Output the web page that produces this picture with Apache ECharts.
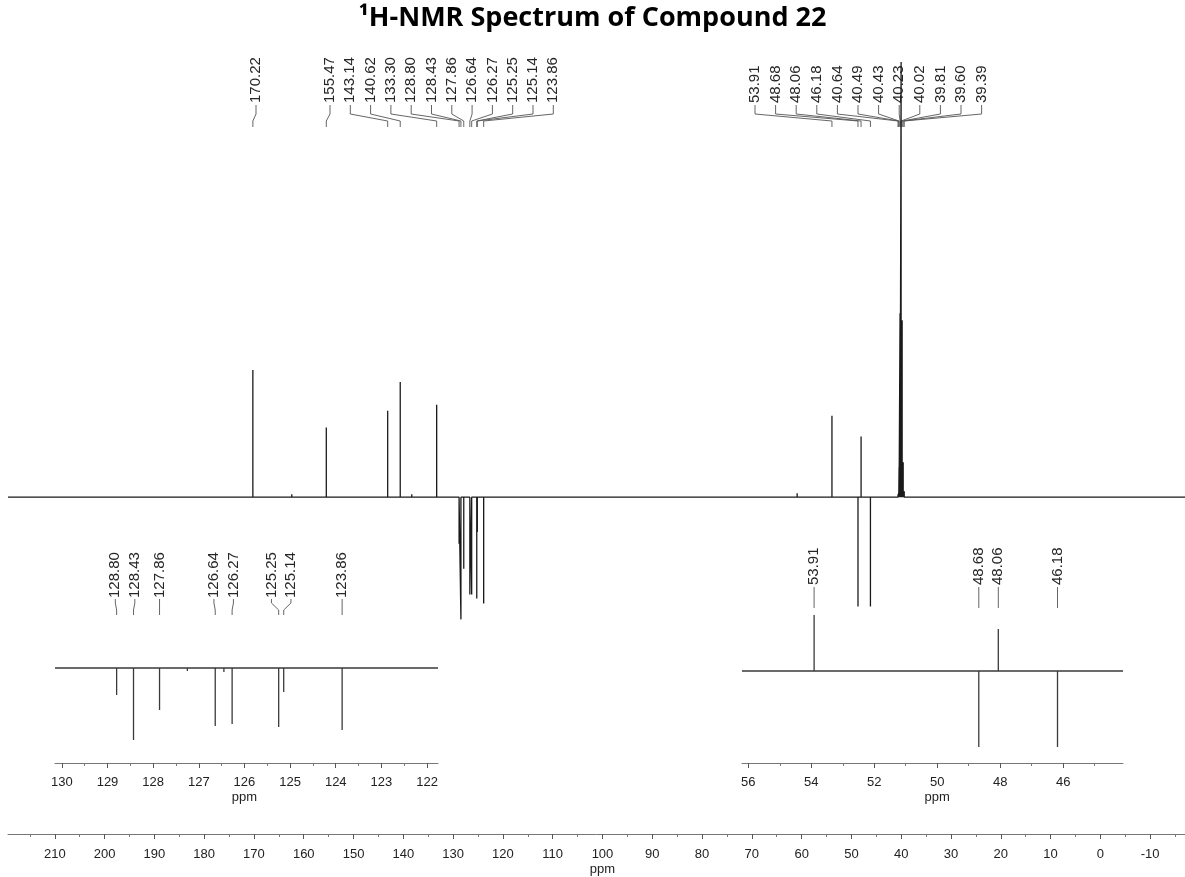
<!DOCTYPE html>
<html>
<head>
<meta charset="utf-8">
<script src="https://cdn.jsdelivr.net/npm/echarts@6/dist/echarts.min.js"></script>
<style>
html,body{margin:0;padding:0;background:#fff;}
#chart{width:1185px;height:877px;}
</style>
</head>
<body>
<div id="chart"></div>
<script>
// ---------------- DATA ----------------
const chartTitle = '¹H-NMR Spectrum of Compound 22';

// Main spectrum: peak positions (ppm) and signed intensities (arbitrary units)
const mainPpm    = [170.22, 162.4, 155.47, 143.14, 140.62, 138.3, 133.30, 128.80, 128.43, 127.86, 126.64, 126.27, 125.25, 125.14, 123.86, 60.9, 53.91, 48.68, 48.06, 46.18, 40.64, 40.49, 40.43, 40.23, 40.02, 39.81, 39.60, 39.39];
const mainHeight = [128,    3,     70,     87,     116,    3,     93,     -47,    -123,   -72,    -98,    -98,    -102,   -35,    -107,   4,    82,    -110,  61,    -110,  3,     4,     30,    185,   438,   178,   35,    6];
const mainRange = [219.4, -17.0];
const mainTickLabels = [210, 200, 190, 180, 170, 160, 150, 140, 130, 120, 110, 100, 90, 80, 70, 60, 50, 40, 30, 20, 10, 0, -10];
const mainMinorTicks = [215, 205, 195, 185, 175, 165, 155, 145, 135, 125, 115, 105, 95, 85, 75, 65, 55, 45, 35, 25, 15, 5, -5, -15];

// Peak-label groups of the main spectrum
const mainLabelsA = [170.22];
const mainLabelsB = [155.47, 143.14, 140.62, 133.30, 128.80, 128.43, 127.86, 126.64, 126.27, 125.25, 125.14, 123.86];
const mainLabelsC = [53.91, 48.68, 48.06, 46.18, 40.64, 40.49, 40.43, 40.23, 40.02, 39.81, 39.60, 39.39];

// Left inset (aromatic region)
const leftPpm    = [128.80, 128.43, 127.86, 127.25, 126.64, 126.45, 126.27, 125.25, 125.14, 123.86];
const leftHeight = [-27,    -72,    -42,    -3,     -58,    -4,     -56,    -59,    -24,    -62];
const leftRange = [130.15, 121.76];
const leftLabels = [128.80, 128.43, 127.86, 126.64, 126.27, 125.25, 125.14, 123.86];
const leftTickLabels = [130, 129, 128, 127, 126, 125, 124, 123, 122];
const leftMinorTicks = [129.5, 128.5, 127.5, 126.5, 125.5, 124.5, 123.5, 122.5];

// Right inset (aliphatic region)
const rightPpm    = [53.91, 48.68, 48.06, 46.18];
const rightHeight = [56,    -76,   42,    -76];
const rightRange = [56.2, 44.1];
const rightLabels = [53.91, 48.68, 48.06, 46.18];
const rightTickLabels = [56, 54, 52, 50, 48, 46];
const rightMinorTicks = [55, 53, 51, 49, 47, 45];

// ---------------- BUILD ----------------
function buildTrace(ppms, heights, range) {
  const idx = ppms.map((p, i) => i).sort((a, b) => ppms[b] - ppms[a]);
  const pts = [[range[0], 0]];
  idx.forEach(i => {
    pts.push([ppms[i], 0]);
    pts.push([ppms[i], heights[i]]);
    pts.push([ppms[i], 0]);
  });
  pts.push([range[1], 0]);
  return pts;
}

function spread(xs, gap) {
  let clusters = xs.map(x => ({ n: 1, sum: x }));
  const startOf = c => c.sum / c.n - (c.n - 1) * gap / 2;
  let changed = true;
  while (changed) {
    changed = false;
    for (let i = 0; i < clusters.length - 1; i++) {
      const a = clusters[i], b = clusters[i + 1];
      if (startOf(b) < startOf(a) + (a.n - 1) * gap + gap - 0.01) {
        clusters.splice(i, 2, { n: a.n + b.n, sum: a.sum + b.sum });
        changed = true;
        break;
      }
    }
  }
  const out = [];
  clusters.forEach(c => { const s = startOf(c); for (let k = 0; k < c.n; k++) out.push(s + k * gap); });
  return out;
}

function labelSeries(values, xAxisIndex, yAxisIndex, layout) {
  return {
    type: 'custom',
    xAxisIndex: xAxisIndex,
    yAxisIndex: yAxisIndex,
    coordinateSystem: 'cartesian2d',
    clip: false,
    silent: true,
    animation: false,
    data: values.map(v => [v, 0]),
    encode: { x: 0, y: 1 },
    renderItem: function (params, api) {
      const i = params.dataIndex;
      const ppm = api.value(0);
      const peakXs = values.map(v => api.coord([v, 0])[0]);
      let lxs;
      if (layout.start != null) {
        lxs = values.map((v, k) => layout.start + k * layout.step);
      } else {
        lxs = spread(peakXs, layout.step);
      }
      const lx = lxs[i], px = peakXs[i];
      return {
        type: 'group',
        children: [
          {
            type: 'text', x: lx, y: layout.textBottom, rotation: Math.PI / 2,
            style: {
              text: ppm.toFixed(2), align: 'left', verticalAlign: 'middle',
              fontSize: layout.fontSize, fontFamily: 'Liberation Sans, Arial, sans-serif', fill: '#262626'
            }
          },
          {
            type: 'polyline',
            shape: { points: [[lx, layout.y1], [lx, layout.y2], [px, layout.y3], [px, layout.y4]] },
            style: { stroke: '#555', lineWidth: 0.9, fill: null }
          }
        ]
      };
    }
  };
}

const AX_FONT = { fontSize: 13, fontFamily: 'Liberation Sans, Arial, sans-serif', color: '#222', lineHeight: 15 };

function majorAxis(grid, range, labels, pplLabel, margin) {
  return {
    type: 'value', gridIndex: grid, position: 'bottom', inverse: true,
    min: range[1], max: range[0],
    axisLine: { show: true, onZero: false, lineStyle: { color: '#777', width: 1 } },
    axisTick: { show: true, length: 5, customValues: labels, lineStyle: { color: '#555', width: 1 } },
    axisLabel: Object.assign({
      show: true, margin: margin, customValues: labels,
      formatter: v => (v === pplLabel ? v + '\nppm' : String(v))
    }, AX_FONT),
    splitLine: { show: false }
  };
}
function minorAxis(grid, range, ticks) {
  return {
    type: 'value', gridIndex: grid, position: 'bottom', inverse: true,
    min: range[1], max: range[0],
    axisLine: { show: false, onZero: false },
    axisTick: { show: true, length: 3, customValues: ticks, lineStyle: { color: '#777', width: 1 } },
    axisLabel: { show: false },
    splitLine: { show: false }
  };
}

const chart = echarts.init(document.getElementById('chart'), null, { renderer: 'canvas' });

const option = {
  backgroundColor: '#fff',
  animation: false,
  title: {
    text: chartTitle, left: 'center', top: 0,
    textStyle: { fontFamily: 'Open Sans, sans-serif', fontWeight: 'bold', fontSize: 27, color: '#000' }
  },
  grid: [
    { left: 8, right: 0, top: 50, bottom: 38 },
    { left: 55, right: 747, top: 600, bottom: 114 },
    { left: 742, right: 62, top: 600, bottom: 114 }
  ],
  xAxis: [
    majorAxis(0, mainRange, mainTickLabels, 100, 13),
    minorAxis(0, mainRange, mainMinorTicks),
    majorAxis(1, leftRange, leftTickLabels, 126, 12),
    minorAxis(1, leftRange, leftMinorTicks),
    majorAxis(2, rightRange, rightTickLabels, 50, 12),
    minorAxis(2, rightRange, rightMinorTicks)
  ],
  yAxis: [
    { type: 'value', gridIndex: 0, min: -339, max: 450, show: false },
    { type: 'value', gridIndex: 1, min: -95, max: 68, show: false },
    { type: 'value', gridIndex: 2, min: -92, max: 71, show: false }
  ],
  series: [
    {
      type: 'line', xAxisIndex: 0, yAxisIndex: 0, showSymbol: false, symbol: 'none',
      data: buildTrace(mainPpm, mainHeight, mainRange),
      lineStyle: { color: '#1a1a1a', width: 1.3 }, clip: true, silent: true
    },
    {
      type: 'line', xAxisIndex: 2, yAxisIndex: 1, showSymbol: false, symbol: 'none',
      data: buildTrace(leftPpm, leftHeight, leftRange),
      lineStyle: { color: '#3a3a3a', width: 1.3 }, silent: true
    },
    {
      type: 'line', xAxisIndex: 4, yAxisIndex: 2, showSymbol: false, symbol: 'none',
      data: buildTrace(rightPpm, rightHeight, rightRange),
      lineStyle: { color: '#3a3a3a', width: 1.3 }, silent: true
    },
    labelSeries(mainLabelsA, 0, 0, { start: 256, step: 0, fontSize: 15, textBottom: 103, y1: 105, y2: 114, y3: 121, y4: 127 }),
    labelSeries(mainLabelsB, 0, 0, { start: 330, step: 20.3, fontSize: 15, textBottom: 103, y1: 105, y2: 114, y3: 121, y4: 127 }),
    labelSeries(mainLabelsC, 0, 0, { start: 755, step: 20.6, fontSize: 15, textBottom: 103, y1: 105, y2: 114, y3: 121, y4: 127 }),
    labelSeries(leftLabels, 2, 1, { step: 19.5, fontSize: 15, textBottom: 598, y1: 599, y2: 603, y3: 610, y4: 615 }),
    labelSeries(rightLabels, 4, 2, { step: 19.5, fontSize: 15, textBottom: 585, y1: 587, y2: 598, y3: 603, y4: 608 })
  ]
};
chart.setOption(option);
</script>
</body>
</html>
